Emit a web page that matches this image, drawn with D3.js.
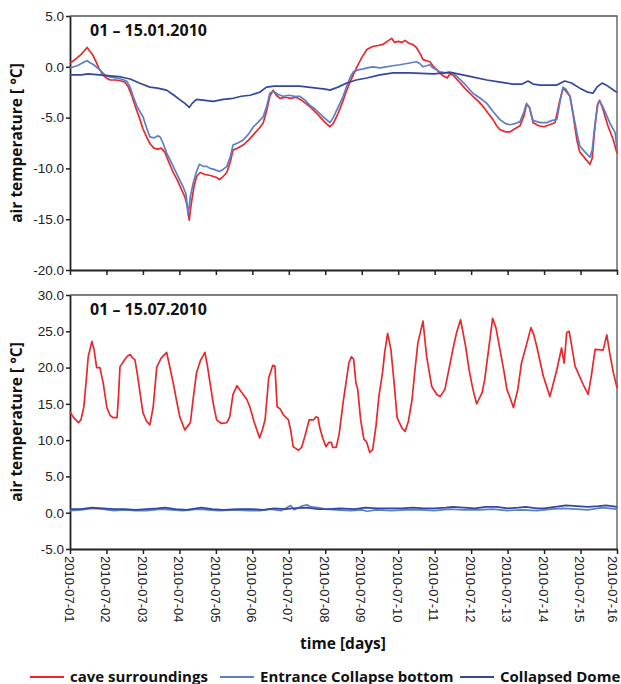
<!DOCTYPE html>
<html>
<head>
<meta charset="utf-8">
<script src="https://cdn.jsdelivr.net/npm/d3@7"></script>
<style>
  body { margin: 0; background: #fff; }
  svg { font-family: "Open Sans", Lato, sans-serif; }
</style>
</head>
<body>
<div id="chart"></div>
<script>
// size of svg
const width = 621, height = 684;
const margin = {left: 70, right: 4};

// data: [day since start, temperature °C]
const caveJan = [[0,0.4],[0.1,0.6],[0.2,0.9],[0.3,1.2],[0.4,1.6],[0.47,1.9],[0.55,1.5],[0.62,1.2],[0.7,0.6],[0.8,-0.2],[0.9,-0.8],[1.0,-1.1],[1.1,-1.3],[1.25,-1.3],[1.4,-1.4],[1.5,-1.5],[1.6,-2.0],[1.7,-2.9],[1.8,-4.0],[1.92,-5.2],[2.0,-6.1],[2.1,-6.9],[2.2,-7.6],[2.3,-8.0],[2.4,-8.1],[2.5,-8.0],[2.6,-8.4],[2.7,-9.3],[2.83,-10.4],[2.95,-11.2],[3.06,-12.1],[3.15,-12.8],[3.22,-13.8],[3.27,-15.1],[3.32,-13.6],[3.4,-11.8],[3.47,-10.8],[3.57,-10.4],[3.7,-10.6],[3.85,-10.7],[4.02,-10.9],[4.1,-11.1],[4.2,-10.8],[4.3,-10.4],[4.4,-9.3],[4.47,-8.2],[4.6,-8.0],[4.75,-7.7],[4.9,-7.2],[5.0,-6.8],[5.1,-6.4],[5.2,-6.0],[5.3,-5.5],[5.4,-4.2],[5.48,-2.9],[5.57,-2.3],[5.66,-2.8],[5.76,-3.1],[5.9,-3.0],[6.05,-3.1],[6.2,-3.0],[6.35,-3.3],[6.5,-3.7],[6.6,-4.0],[6.77,-4.6],[6.9,-5.1],[7.0,-5.5],[7.13,-5.9],[7.22,-5.6],[7.35,-4.6],[7.46,-3.6],[7.57,-2.5],[7.68,-1.5],[7.78,-0.7],[7.87,0.0],[8.0,0.9],[8.14,1.7],[8.3,2.0],[8.45,2.1],[8.58,2.2],[8.7,2.5],[8.82,2.8],[8.9,2.4],[9.0,2.5],[9.1,2.4],[9.19,2.6],[9.3,2.3],[9.4,2.2],[9.5,1.9],[9.6,1.3],[9.68,0.7],[9.78,0.6],[9.87,0.5],[9.95,0.1],[10.06,-0.3],[10.2,-0.8],[10.34,-1.1],[10.42,-0.7],[10.5,-0.8],[10.6,-1.2],[10.7,-1.6],[10.85,-2.2],[11.05,-2.9],[11.2,-3.4],[11.33,-3.9],[11.45,-4.5],[11.6,-5.2],[11.7,-5.8],[11.79,-6.2],[11.95,-6.4],[12.07,-6.4],[12.2,-6.1],[12.34,-5.8],[12.45,-4.8],[12.52,-3.7],[12.6,-4.0],[12.7,-5.5],[12.85,-5.8],[13.0,-5.9],[13.15,-5.7],[13.3,-5.5],[13.42,-3.5],[13.52,-2.1],[13.6,-2.4],[13.71,-2.9],[13.8,-4.8],[13.9,-7.2],[13.98,-8.4],[14.1,-8.9],[14.26,-9.6],[14.32,-9.0],[14.38,-6.5],[14.46,-3.8],[14.52,-3.3],[14.6,-4.0],[14.75,-5.8],[14.9,-7.2],[15.0,-8.5]];
const entranceJan = [[0,-0.1],[0.1,0.0],[0.2,0.1],[0.3,0.3],[0.4,0.5],[0.47,0.6],[0.55,0.4],[0.65,0.2],[0.75,-0.1],[0.85,-0.4],[0.95,-0.8],[1.1,-1.0],[1.25,-1.1],[1.4,-1.2],[1.55,-1.4],[1.65,-2.0],[1.73,-2.9],[1.85,-4.0],[2.0,-4.9],[2.1,-6.0],[2.19,-6.9],[2.3,-7.0],[2.4,-6.8],[2.47,-6.9],[2.55,-7.5],[2.65,-8.5],[2.75,-9.2],[2.83,-9.8],[2.95,-10.7],[3.1,-11.8],[3.18,-12.5],[3.24,-14.6],[3.3,-12.8],[3.38,-11.4],[3.47,-10.3],[3.55,-9.6],[3.65,-9.8],[3.75,-9.8],[3.84,-10.0],[3.95,-10.1],[4.1,-10.3],[4.2,-10.1],[4.3,-9.8],[4.4,-8.8],[4.47,-7.7],[4.6,-7.5],[4.75,-7.2],[4.9,-6.6],[5.03,-5.9],[5.15,-5.5],[5.3,-4.9],[5.4,-3.8],[5.48,-2.6],[5.57,-2.4],[5.7,-2.7],[5.84,-2.9],[6.0,-2.8],[6.15,-2.9],[6.3,-2.9],[6.45,-3.3],[6.58,-3.8],[6.7,-4.1],[6.85,-4.6],[7.0,-5.1],[7.13,-5.5],[7.22,-5.0],[7.35,-4.0],[7.49,-2.9],[7.6,-1.8],[7.7,-0.9],[7.77,-0.5],[7.9,-0.3],[8.05,-0.2],[8.14,-0.1],[8.3,0.0],[8.5,-0.1],[8.67,0.0],[8.85,0.1],[9.05,0.2],[9.2,0.3],[9.35,0.4],[9.5,0.5],[9.6,0.3],[9.68,0.0],[9.78,0.1],[9.87,0.2],[9.95,-0.1],[10.05,-0.3],[10.15,-0.5],[10.3,-0.6],[10.4,-0.5],[10.5,-0.6],[10.65,-1.1],[10.8,-1.6],[11.05,-2.6],[11.25,-3.1],[11.43,-3.6],[11.6,-4.4],[11.79,-5.2],[11.95,-5.6],[12.07,-5.7],[12.2,-5.6],[12.34,-5.4],[12.45,-4.4],[12.52,-3.6],[12.6,-4.0],[12.7,-5.3],[12.9,-5.5],[13.07,-5.5],[13.2,-5.3],[13.35,-5.2],[13.45,-3.2],[13.52,-2.0],[13.6,-2.2],[13.71,-2.9],[13.8,-4.6],[13.9,-6.5],[13.98,-7.8],[14.1,-8.3],[14.26,-8.9],[14.32,-8.2],[14.4,-5.5],[14.48,-3.6],[14.53,-3.4],[14.62,-4.0],[14.8,-5.5],[14.95,-6.5],[15.0,-8.0]];
const domeJan = [[0,-0.8],[0.3,-0.8],[0.5,-0.7],[0.8,-0.8],[1.1,-0.9],[1.4,-1.0],[1.65,-1.2],[1.9,-1.6],[2.19,-2.0],[2.4,-2.1],[2.65,-2.3],[2.85,-2.8],[3.0,-3.2],[3.15,-3.6],[3.27,-4.0],[3.35,-3.6],[3.47,-3.2],[3.7,-3.3],[3.93,-3.4],[4.2,-3.2],[4.47,-3.1],[4.7,-2.9],[4.94,-2.8],[5.2,-2.5],[5.39,-2.0],[5.6,-1.9],[5.93,-1.9],[6.3,-1.9],[6.76,-2.1],[7.0,-2.2],[7.13,-2.3],[7.35,-2.0],[7.59,-1.6],[7.85,-1.3],[8.14,-1.1],[8.5,-0.8],[8.86,-0.6],[9.3,-0.6],[9.96,-0.7],[10.3,-0.6],[10.5,-0.6],[10.9,-0.9],[11.43,-1.3],[11.8,-1.5],[12.15,-1.7],[12.4,-1.7],[12.56,-1.4],[12.7,-1.7],[12.89,-1.8],[13.35,-1.8],[13.57,-1.4],[13.75,-1.6],[13.98,-2.1],[14.2,-2.5],[14.34,-2.6],[14.45,-2.0],[14.59,-1.6],[14.75,-1.9],[14.95,-2.4],[15.0,-2.5]];

const caveJul = [[0,13.9],[0.1,13.1],[0.23,12.4],[0.3,12.8],[0.38,14.6],[0.45,18.5],[0.5,21.5],[0.6,23.6],[0.66,22.5],[0.73,20.0],[0.82,20.0],[0.91,17.9],[1.01,14.5],[1.1,13.4],[1.18,13.1],[1.29,13.1],[1.33,16.0],[1.37,20.1],[1.5,21.1],[1.58,21.6],[1.65,21.8],[1.72,21.3],[1.78,21.1],[1.85,19.0],[1.92,16.5],[2.0,13.8],[2.1,12.6],[2.19,12.1],[2.28,14.5],[2.38,20.1],[2.5,21.3],[2.65,22.1],[2.72,20.5],[2.83,17.9],[2.92,15.5],[3.01,13.2],[3.15,11.4],[3.22,11.9],[3.3,12.4],[3.38,15.8],[3.47,19.3],[3.58,21.0],[3.7,22.1],[3.77,20.2],[3.84,17.9],[3.93,15.0],[4.02,12.8],[4.15,12.3],[4.3,12.4],[4.38,13.2],[4.47,16.3],[4.58,17.5],[4.66,16.9],[4.75,16.3],[4.85,15.6],[4.93,14.6],[5.05,12.5],[5.2,10.3],[5.28,11.5],[5.35,12.8],[5.45,18.6],[5.56,20.3],[5.62,20.2],[5.68,14.6],[5.76,14.3],[5.85,13.5],[5.99,12.8],[6.05,11.4],[6.12,9.1],[6.26,8.6],[6.35,9.0],[6.44,10.5],[6.56,12.8],[6.68,12.8],[6.74,13.2],[6.8,13.1],[6.85,11.7],[6.93,10.3],[7.02,9.1],[7.1,9.7],[7.17,9.7],[7.2,9.0],[7.3,9.0],[7.38,10.8],[7.49,15.2],[7.6,19.0],[7.65,20.7],[7.72,21.5],[7.78,21.1],[7.84,17.9],[7.89,17.0],[7.97,12.8],[8.06,10.1],[8.13,9.8],[8.22,8.3],[8.3,8.7],[8.39,11.9],[8.47,16.0],[8.57,19.3],[8.63,22.1],[8.71,24.7],[8.8,22.5],[8.88,18.3],[8.97,13.1],[9.1,11.7],[9.19,11.2],[9.28,12.6],[9.38,15.6],[9.46,19.7],[9.54,23.4],[9.68,26.4],[9.78,21.5],[9.92,17.4],[10.06,16.3],[10.15,16.0],[10.28,17.0],[10.4,20.0],[10.5,22.5],[10.6,24.8],[10.71,26.6],[10.85,22.9],[10.95,19.5],[11.05,17.0],[11.15,15.0],[11.3,16.5],[11.37,18.3],[11.48,22.5],[11.59,26.8],[11.68,25.5],[11.79,22.5],[11.9,19.5],[11.98,17.0],[12.07,15.8],[12.16,14.5],[12.28,17.0],[12.38,20.6],[12.52,23.2],[12.64,25.5],[12.72,24.5],[12.8,22.9],[12.98,18.8],[13.16,16.0],[13.35,19.7],[13.48,22.7],[13.55,20.6],[13.62,24.8],[13.69,25.0],[13.77,22.6],[13.85,20.2],[14.07,17.7],[14.21,16.3],[14.3,19.0],[14.4,22.5],[14.62,22.4],[14.72,24.5],[14.8,22.0],[14.9,19.3],[15.0,17.2]];
const entranceJul = [[0,0.3],[0.3,0.4],[0.6,0.6],[0.9,0.5],[1.2,0.3],[1.5,0.4],[1.8,0.3],[2.1,0.3],[2.5,0.5],[2.8,0.4],[3.1,0.3],[3.5,0.5],[3.8,0.4],[4.1,0.3],[4.5,0.4],[4.9,0.3],[5.2,0.3],[5.5,0.5],[5.8,0.3],[6.05,1.0],[6.15,0.4],[6.35,0.9],[6.5,1.1],[6.6,0.8],[6.8,0.7],[7.0,0.5],[7.3,0.4],[7.7,0.3],[8.0,0.4],[8.15,0.2],[8.4,0.4],[8.8,0.3],[9.2,0.4],[9.6,0.4],[10.0,0.3],[10.4,0.5],[10.8,0.4],[11.2,0.4],[11.6,0.5],[12.0,0.3],[12.4,0.4],[12.8,0.3],[13.2,0.5],[13.5,0.6],[13.9,0.5],[14.2,0.4],[14.6,0.7],[14.8,0.6],[15.0,0.5]];
const domeJul = [[0,0.5],[0.3,0.5],[0.6,0.7],[0.9,0.6],[1.2,0.5],[1.5,0.5],[1.8,0.4],[2.1,0.5],[2.4,0.6],[2.6,0.7],[2.9,0.5],[3.2,0.4],[3.6,0.7],[3.9,0.5],[4.2,0.4],[4.6,0.5],[5.0,0.5],[5.3,0.4],[5.6,0.6],[5.9,0.5],[6.1,0.6],[6.5,0.7],[6.8,0.5],[7.1,0.5],[7.4,0.6],[7.8,0.5],[8.1,0.7],[8.4,0.6],[8.8,0.6],[9.1,0.6],[9.4,0.7],[9.7,0.6],[10.0,0.6],[10.3,0.7],[10.5,0.8],[10.8,0.7],[11.1,0.6],[11.4,0.8],[11.7,0.8],[12.0,0.6],[12.3,0.7],[12.5,0.8],[12.8,0.6],[13.0,0.6],[13.3,0.8],[13.6,1.0],[13.9,0.9],[14.2,0.8],[14.5,0.9],[14.7,1.0],[15.0,0.8]];

const dayLabels = ["2010-07-01","2010-07-02","2010-07-03","2010-07-04","2010-07-05","2010-07-06","2010-07-07","2010-07-08","2010-07-09","2010-07-10","2010-07-11","2010-07-12","2010-07-13","2010-07-14","2010-07-15","2010-07-16"];
const seriesNames = ["cave surroundings", "Entrance Collapse bottom", "Collapsed Dome"];
const seriesColors = ["#e8282b", "#5b7fc8", "#34479e"];
const janTicks = [5, 0, -5, -10, -15, -20];
const julTicks = [30, 25, 20, 15, 10, 5, 0, -5];

let svg = d3.select('#chart')
    .append('svg')
        .attr('width', width)
        .attr('height', height);

const x = d3.scaleLinear()
    .domain([0, 15])
    .range([margin.left, width - margin.right]);

const fmt = d => d.toFixed(1);

function drawPanel(cfg){
    const y = d3.scaleLinear().domain(cfg.domain).range([cfg.bottom, cfg.top]);

    // frame top + right
    svg.append("path")
        .attr("d", `M${x(0)},${cfg.top}H${x(15)}V${cfg.bottom}`)
        .attr("fill", "none")
        .attr("stroke", "#555")
        .attr("stroke-width", 1.3);

    // y axis
    const gy = svg.append("g")
        .attr("transform", `translate(${x(0)},0)`)
        .call(d3.axisLeft(y).tickValues(cfg.ticks).tickFormat(fmt).tickSize(4).tickSizeOuter(0));
    gy.selectAll("text").attr("font-size", 13.5).attr("fill", "#222").attr("x", -6);

    // x axis
    const gx = svg.append("g")
        .attr("transform", `translate(0,${cfg.bottom})`)
        .call(d3.axisBottom(x).tickValues(d3.range(16)).tickSize(5).tickSizeOuter(0)
            .tickFormat((d, i) => cfg.labels ? dayLabels[i] : ""));
    // last label sits on the right edge, nudge it inside
    gx.selectAll("text")
        .attr("font-size", 13)
        .attr("fill", "#222")
        .attr("transform", "rotate(90)")
        .attr("text-anchor", "start")
        .attr("x", 7)
        .attr("y", 0)
        .attr("dy", (d, i) => i === 15 ? "0.75em" : "0.45em");

    svg.selectAll(".domain").attr("stroke", "#222").attr("stroke-width", 1.8);
    svg.selectAll(".tick line").attr("stroke", "#222").attr("stroke-width", 1.5);

    const line = d3.line().x(d => x(d[0])).y(d => y(d[1]));
    cfg.series.forEach((s, i) => {
        svg.append("path")
            .datum(s)
            .attr("fill", "none")
            .attr("stroke", seriesColors[i])
            .attr("stroke-width", 1.7)
            .attr("stroke-linejoin", "round")
            .attr("d", line);
    });

    svg.append("text")
        .attr("x", 90)
        .attr("y", cfg.top + 20)
        .attr("font-size", 16)
        .attr("font-weight", "bold")
        .attr("fill", "#111")
        .text(cfg.title);

    svg.append("text")
        .attr("transform", `translate(22,${(cfg.top + cfg.bottom) / 2}) rotate(-90)`)
        .attr("text-anchor", "middle")
        .attr("font-size", 15.5)
        .attr("font-weight", "bold")
        .attr("fill", "#111")
        .text("air temperature [ °C]");
}

drawPanel({domain: [-20, 5], top: 16, bottom: 270, ticks: janTicks, labels: false,
    series: [caveJan, entranceJan, domeJan], title: "01 – 15.01.2010"});
drawPanel({domain: [-5, 30], top: 295, bottom: 549, ticks: julTicks, labels: true,
    series: [caveJul, entranceJul, domeJul], title: "01 – 15.07.2010"});

svg.append("text")
    .attr("x", 343)
    .attr("y", 649)
    .attr("text-anchor", "middle")
    .attr("font-size", 15.5)
    .attr("font-weight", "bold")
    .attr("fill", "#111")
    .text("time [days]");

// legend
const legendX = [30, 220, 460];
const legend = svg.append("g").attr("transform", "translate(0,677)");
seriesNames.forEach((name, i) => {
    legend.append("line")
        .attr("x1", legendX[i]).attr("x2", legendX[i] + 34)
        .attr("stroke", seriesColors[i])
        .attr("stroke-width", 2.2);
    legend.append("text")
        .attr("x", legendX[i] + 40)
        .attr("y", 4.5)
        .attr("font-size", 15)
        .attr("font-weight", "bold")
        .attr("fill", "#111")
        .text(name);
});
</script>
</body>
</html>
